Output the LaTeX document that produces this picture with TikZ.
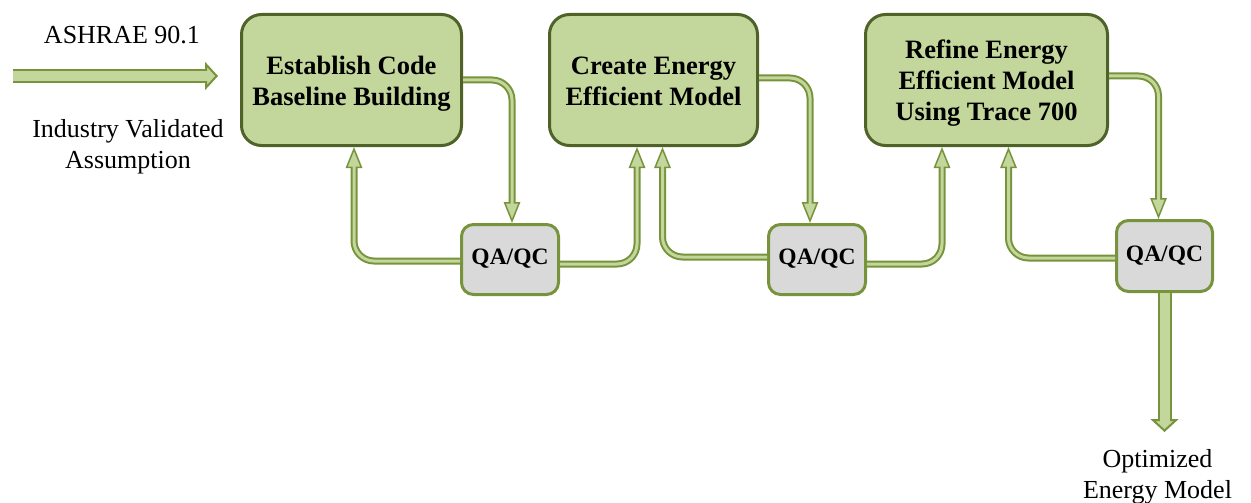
\documentclass[tikz,border=0pt]{standalone}
\usepackage{fontspec}
\setmainfont{Liberation Serif}
\usetikzlibrary{arrows.meta}
\definecolor{boxfill}{HTML}{C3D69B}
\definecolor{boxline}{HTML}{4F6228}
\definecolor{qfill}{HTML}{D9D9D9}
\definecolor{qline}{HTML}{77933C}
\definecolor{cline}{HTML}{77933C}
\definecolor{cfill}{HTML}{C3D69B}
\begin{document}
\begin{tikzpicture}[x=1pt,y=-1pt,
  stage/.style={draw=boxline, fill=boxfill, line width=3pt, rounded corners=20pt,
    minimum height=131pt, align=center, inner sep=0pt,
    font=\fontsize{26.5}{31}\selectfont\bfseries},
  check/.style={draw=qline, fill=qfill, line width=3pt, rounded corners=12pt,
    minimum width=97pt, minimum height=70pt, inner sep=0pt,
    text height=10pt, text depth=0pt,
    font=\fontsize{23.5}{28}\selectfont\bfseries},
  plain/.style={align=center, inner sep=0pt, font=\fontsize{26}{31}\selectfont},
  link/.style={draw=cline, line width=7pt, rounded corners=20pt,
    -{Triangle[width=16.5pt 0 0, length=21pt 0 0, fill=cfill, line width=1.5pt 0 0]},
    postaction={draw=cfill, line width=3pt, arrows=-, shorten >=18pt}},
  bigarrow/.style={draw=cline, line width=14pt,
    -{Triangle[width=28pt 0 0, length=13pt 0 0, fill=cfill, line width=2pt 0 0]},
    postaction={draw=cfill, line width=10pt, arrows=-, shorten >=10pt}}
]
\useasboundingbox (0,0) rectangle (1251,503);

% main stages
\node[stage, minimum width=220pt] (b1) at (351.5,80) {\rule{0pt}{26pt}Establish Code\\Baseline Building};
\node[stage, minimum width=208pt] (b2) at (653.5,80) {\rule{0pt}{20pt}Create Energy\\Efficient Model};
\node[stage, minimum width=242pt] (b3) at (986.5,80) {\rule{0pt}{24pt}Refine Energy\\Efficient Model\\Using Trace 700};

% QA/QC checks
\node[check] (q1) at (510,259.5) {QA/QC};
\node[check] (q2) at (817,259.5) {QA/QC};
\node[check, minimum width=96pt, minimum height=71pt] (q3) at (1164.5,256) {QA/QC};

% free texts
\node[plain] (t1) at (122,35) {ASHRAE 90.1};
\node[plain] (t2) at (128,146.4) {Industry Validated\\Assumption};
\node[plain] (t3) at (1157.5,477) {Optimized\\Energy Model};

% input and output arrows
\coordinate (in0) at (13,76);
\coordinate (in1) at (218,76);
\coordinate (out1) at (1164,432);
\draw[bigarrow] (in0) -- (in1);
\draw[bigarrow] (q3.south) -- (q3.south |- out1);

% loop connectors
\draw[link] (b1.east) -| ([xshift=2pt]q1.north);
\draw[link] ([yshift=-1.5pt]q1.west) -| ([xshift=2.5pt]b1.south);
\draw[link] ([yshift=-4.5pt]q1.east) -| ([xshift=-16.5pt]b2.south);
\draw[link] ([yshift=2pt]b2.east) -| ([xshift=-7pt]q2.north);
\draw[link] ([yshift=2.5pt]q2.west) -| ([xshift=9pt]b2.south);
\draw[link] ([yshift=-4.5pt]q2.east) -| ([xshift=-44.5pt]b3.south);
\draw[link] ([yshift=4pt]b3.east) -| ([xshift=-6pt]q3.north);
\draw[link] ([yshift=-2pt]q3.west) -| ([xshift=22pt]b3.south);
\end{tikzpicture}
\end{document}
